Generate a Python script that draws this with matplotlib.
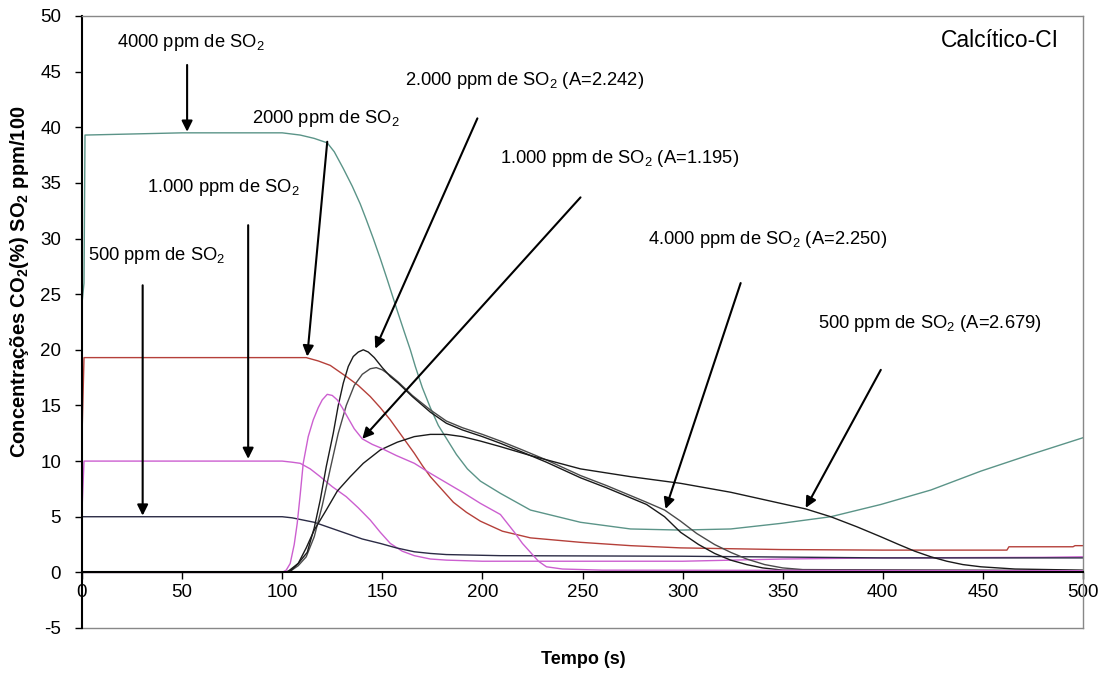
import matplotlib
matplotlib.use("Agg")
import matplotlib.pyplot as plt

plt.rcParams["font.family"] = ["Liberation Sans", "DejaVu Sans"]
plt.rcParams["mathtext.fontset"] = "custom"
plt.rcParams["mathtext.rm"] = "Liberation Sans"
plt.rcParams["mathtext.it"] = "Liberation Sans:italic"
plt.rcParams["mathtext.bf"] = "Liberation Sans:bold"
plt.rcParams["axes.unicode_minus"] = False

# SO2 curves (plateau, then fall)
t_so2_4000 = [0, 1, 1.5, 50, 100, 109, 116, 122.5, 126, 130.5, 135, 139, 142, 145.5, 149, 152.5, 155, 157.5, 161,
              164, 166.5, 170, 174, 178, 182.5, 187, 192.5, 199, 209, 224, 249, 274, 299, 324, 349, 374, 399, 424,
              449, 474, 500]
so2_4000 = [24.2, 26.0, 39.3, 39.5, 39.5, 39.3, 39.0, 38.6, 37.8, 36.3, 34.7, 33.1, 31.7, 30.0, 28.2, 26.3, 24.9, 23.5,
            21.6, 20.0, 18.5, 16.6, 14.8, 13.2, 11.9, 10.6, 9.3, 8.2, 7.1, 5.6, 4.5, 3.9, 3.8, 3.9, 4.4, 5.0, 6.1,
            7.4, 9.1, 10.6, 12.1]

t_so2_2000 = [0, 1, 50, 100, 112, 118, 124, 132, 138, 144, 149, 154, 160, 166, 170, 174, 180, 185.5, 192, 199, 210,
              224, 249, 274, 299, 349, 400, 462, 463, 495, 496, 500]
so2_2000 = [12.2, 19.3, 19.3, 19.3, 19.3, 19.0, 18.6, 17.6, 16.8, 15.8, 14.8, 13.7, 12.2, 10.7, 9.6, 8.6, 7.4, 6.3,
            5.4, 4.6, 3.7, 3.1, 2.7, 2.4, 2.2, 2.05, 2.0, 2.0, 2.3, 2.3, 2.4, 2.4]

t_so2_1000 = [0, 1, 50, 100, 105, 109, 114, 119, 125, 132, 138, 144, 149, 154, 160, 166, 174, 182, 200, 300, 350,
              400, 480, 500]
so2_1000 = [5.6, 10.0, 10.0, 10.0, 9.9, 9.8, 9.3, 8.6, 7.7, 6.8, 5.8, 4.7, 3.6, 2.6, 1.9, 1.5, 1.2, 1.1, 1.0, 1.0,
            1.2, 1.3, 1.35, 1.4]

t_so2_500 = [0, 50, 100, 105, 116, 124, 132, 140, 149, 157, 166, 174, 182, 209, 300, 400, 500]
so2_500 = [5.0, 5.0, 5.0, 4.9, 4.5, 4.0, 3.5, 3.0, 2.6, 2.2, 1.85, 1.7, 1.6, 1.5, 1.45, 1.3, 1.3]

# CO2 curves
t_a2242 = [0, 100, 103, 108, 112.5, 116, 119, 122, 125.5, 128, 130.5, 133, 135.5, 138, 140.5, 143, 146, 150, 154,
           158, 165, 174, 182, 190, 200, 209, 220, 232, 249, 262, 274, 282, 291, 299, 308, 316, 324, 332, 340, 350, 500]
co2_a2242 = [0, 0, 0.1, 0.8, 1.8, 4.0, 6.5, 9.5, 12.5, 15.0, 17.0, 18.5, 19.4, 19.8, 20.0, 19.8, 19.3, 18.4, 17.6,
             17.0, 15.8, 14.4, 13.4, 12.8, 12.2, 11.6, 10.8, 9.9, 8.5, 7.6, 6.7, 6.1, 5.0, 3.6, 2.5, 1.7, 1.1, 0.7,
             0.4, 0.2, 0.15]

t_a2250 = [0, 100, 104, 108, 112, 116, 120, 124, 128, 132, 136, 140, 144, 147, 150, 154, 158, 165, 174, 182, 190,
           200, 209, 220, 232, 249, 262, 274, 282, 291, 299, 307, 316, 324, 332, 341, 350, 360, 500]
co2_a2250 = [0, 0, 0.1, 0.6, 1.4, 3.2, 6.0, 9.3, 12.5, 15.0, 16.8, 17.8, 18.3, 18.4, 18.2, 17.7, 17.1, 15.9, 14.6,
             13.6, 13.0, 12.4, 11.8, 11.0, 10.1, 8.7, 7.8, 6.9, 6.3, 5.6, 4.6, 3.5, 2.5, 1.8, 1.2, 0.7, 0.4, 0.25, 0.15]

t_a2679 = [0, 100, 104, 108, 112, 116, 122, 127.5, 134, 140.5, 149, 157.5, 166, 174, 182, 190, 199, 209, 224, 249,
           274, 299, 324, 349, 361.5, 374, 387, 399, 408, 416, 424, 432, 440, 449, 466, 500]
co2_a2679 = [0, 0, 0.1, 0.8, 2.2, 3.8, 5.6, 7.3, 8.6, 9.8, 11.0, 11.7, 12.2, 12.4, 12.4, 12.2, 11.8, 11.3, 10.5, 9.3,
             8.6, 8.0, 7.2, 6.2, 5.7, 5.0, 4.1, 3.2, 2.5, 1.9, 1.4, 1.0, 0.7, 0.5, 0.3, 0.2]

t_a1195 = [0, 100, 102, 104, 106, 107.5, 109, 110.5, 113, 115.5, 118, 120, 122.5, 125, 127.5, 130, 132.5, 136, 140,
           145, 149, 157, 166, 174, 182.5, 191, 199, 209, 216, 220, 224, 228, 232, 240, 260, 500]
co2_a1195 = [0, 0, 0.2, 0.8, 2.5, 4.4, 7.0, 9.8, 12.2, 13.7, 14.8, 15.5, 16.0, 15.9, 15.5, 14.8, 14.0, 12.9, 12.0,
             11.5, 11.2, 10.5, 9.8, 8.9, 8.0, 7.1, 6.2, 5.2, 3.6, 2.6, 1.8, 1.0, 0.5, 0.3, 0.2, 0.15]

# annotations: text, text position, arrow tail, arrow tip
labels = [r"4000 ppm de SO$_2$", r"2000 ppm de SO$_2$", r"1.000 ppm de SO$_2$", r"500 ppm de SO$_2$",
          r"2.000 ppm de SO$_2$ (A=2.242)", r"1.000 ppm de SO$_2$ (A=1.195)",
          r"4.000 ppm de SO$_2$ (A=2.250)", r"500 ppm de SO$_2$ (A=2.679)"]
label_pos = [(17.5, 47.6), (85, 40.8), (32.5, 34.6), (3, 28.5), (161.5, 44.2), (209, 37.2), (282.5, 29.9), (367.5, 22.4)]
arrow_tail = [(52.5, 45.6), (122.5, 38.7), (83, 31.2), (30.3, 25.8), (197.5, 40.8), (249, 33.7), (329, 26.0), (399, 18.2)]
arrow_tip = [(52.5, 39.6), (112.5, 19.4), (83, 10.2), (30.3, 5.1), (146.5, 20.1), (140, 12.0), (291.5, 5.7), (361.5, 5.8)]

fig = plt.figure(figsize=(11.13, 6.73), dpi=100)
ax = fig.add_axes([82 / 1113, 45 / 673, 1001 / 1113, 612 / 673])

ax.plot(t_so2_4000, so2_4000, color="#5b9488", lw=1.0)
ax.plot(t_so2_2000, so2_2000, color="#b5403a", lw=1.0)
ax.plot(t_so2_1000, so2_1000, color="#cc5fd0", lw=1.0)
ax.plot(t_so2_500, so2_500, color="#2b2b45", lw=1.0)
ax.plot(t_a2250, co2_a2250, color="#4a4a4a", lw=1.0)
ax.plot(t_a2242, co2_a2242, color="#1a1a1a", lw=1.0)
ax.plot(t_a2679, co2_a2679, color="#1a1a1a", lw=1.0)
ax.plot(t_a1195, co2_a1195, color="#cc5fd0", lw=1.0)

for txt, pos, tail, tip in zip(labels, label_pos, arrow_tail, arrow_tip):
    ax.text(pos[0], pos[1], txt, fontsize=13.2, ha="left", va="center")
    ax.annotate("", xy=tip, xytext=tail,
                arrowprops=dict(arrowstyle="-|>", color="black", lw=1.5, mutation_scale=16, shrinkA=0, shrinkB=0))

ax.text(488, 47.8, "Calcítico-CI", fontsize=16.5, ha="right", va="center")

ax.set_xlim(0, 500)
ax.set_ylim(-5, 50)
ax.set_xticks(range(0, 501, 50))
ax.set_yticks(range(-5, 51, 5))
ax.tick_params(axis="both", labelsize=13.5, direction="out", length=5, width=1)
ax.tick_params(axis="y", pad=10)

ax.spines["bottom"].set_position(("data", 0))
ax.spines["bottom"].set_linewidth(1.5)
ax.spines["left"].set_linewidth(1.5)
for s in ["top", "right"]:
    ax.spines[s].set_color("#888888")
    ax.spines[s].set_linewidth(1.0)
ax.axhline(-5, color="#888888", lw=1.0, clip_on=False)

fig.text(20 / 1113, 1 - 282 / 673, r"Concentrações CO$_\mathbf{2}$(%) SO$_\mathbf{2}$ ppm/100",
         rotation=90, ha="center", va="center", fontsize=14.5, fontweight="bold")
fig.text(583 / 1113, 1 - 660 / 673, "Tempo (s)", ha="center", va="center", fontsize=13, fontweight="bold")

fig.savefig("out.png", dpi=100)
